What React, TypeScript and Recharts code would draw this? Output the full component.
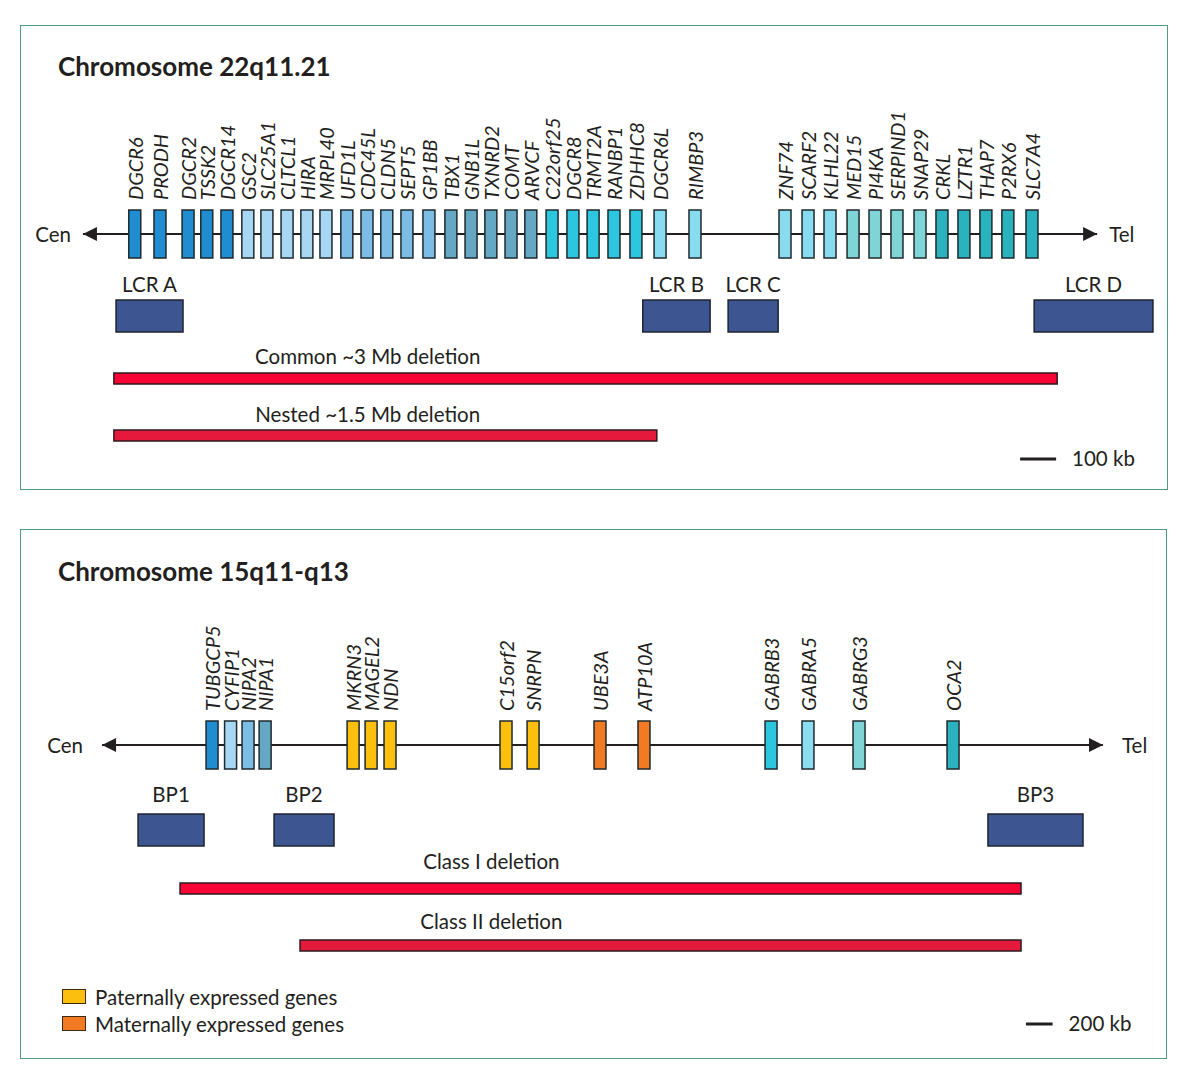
import { ScatterChart, Scatter, XAxis, YAxis, ReferenceArea, ReferenceLine } from 'recharts';

// ---- Chromosome 22q11.21 (positions in kb from the start of LCR A) ----
const genes22 = [
  'DGCR6', 'PRODH', 'DGCR2', 'TSSK2', 'DGCR14',
  'GSC2', 'SLC25A1', 'CLTCL1', 'HIRA', 'MRPL40',
  'UFD1L', 'CDC45L', 'CLDN5', 'SEPT5', 'GP1BB',
  'TBX1', 'GNB1L', 'TXNRD2', 'COMT', 'ARVCF',
  'C22orf25', 'DGCR8', 'TRMT2A', 'RANBP1', 'ZDHHC8',
  'DGCR6L', 'RIMBP3', 'ZNF74', 'SCARF2', 'KLHL22',
  'MED15', 'PI4KA', 'SERPIND1', 'SNAP29',
  'CRKL', 'LZTR1', 'THAP7', 'P2RX6', 'SLC7A4',
];
const genePos22 = [
  58, 128, 206, 258, 314,
  372, 425, 481, 536, 589,
  647, 703, 758, 814, 875,
  936, 992, 1047, 1103, 1158,
  1217, 1275, 1331, 1389, 1450,
  1517, 1614, 1864, 1928, 1989,
  2053, 2114, 2175, 2239,
  2300, 2361, 2422, 2483, 2550,
];
const geneGroup22 = [
  0, 0, 0, 0, 0,
  1, 1, 1, 1, 1,
  2, 2, 2, 2, 2,
  3, 3, 3, 3, 3,
  4, 4, 4, 4, 4,
  5, 5, 5, 5, 5,
  6, 6, 6, 6,
  7, 7, 7, 7, 7,
];
const groupColors = ['#1f8dcf', '#a8d7f4', '#7cbce5', '#64a8c3', '#2cc7df', '#88dcef', '#7fd5d5', '#2ab2be'];

const lcrNames = ['LCR A', 'LCR B', 'LCR C', 'LCR D'];
const lcrStart = [6, 1469, 1706, 2556];
const lcrEnd = [192, 1656, 1845, 2886];

const deletions22 = ['Common ~3 Mb deletion', 'Nested ~1.5 Mb deletion'];
const delStart22 = [0, 0];
const delEnd22 = [2620, 1508];

// ---- Chromosome 15q11-q13 (positions in kb from the start of BP1) ----
const genes15 = [
  'TUBGCP5', 'CYFIP1', 'NIPA2', 'NIPA1',
  'MKRN3', 'MAGEL2', 'NDN', 'C15orf2', 'SNRPN',
  'UBE3A', 'ATP10A',
  'GABRB3', 'GABRA5', 'GABRG3', 'OCA2',
];
const genePos15 = [555, 694, 825, 953, 1613, 1748, 1890, 2760, 2963, 3465, 3795, 4748, 5025, 5408, 6113];
const geneColor15 = [
  '#1f8dcf', '#a8d7f4', '#7cbce5', '#64a8c3',
  'pat', 'pat', 'pat', 'pat', 'pat',
  'mat', 'mat',
  '#2cc7df', '#8cdcef', '#7fd5d5', '#2ab2be',
];

const bpNames = ['BP1', 'BP2', 'BP3'];
const bpStart = [0, 1020, 6375];
const bpEnd = [495, 1470, 7088];

const deletions15 = ['Class I deletion', 'Class II deletion'];
const delStart15 = [315, 1215];
const delEnd15 = [6623, 6623];

const legendItems = ['Paternally expressed genes', 'Maternally expressed genes'];

const PAT = '#fcbf0e';
const MAT = '#f27a22';
const TEXT = '#231f20';
const FONT = 'Lato, "Open Sans", sans-serif';
const BORDER = '#4e9c82';
const FS = 20.5;

const GeneBox = (props: any) => {
  const { cx, cy, payload } = props;
  const w = 12;
  const h = 48;
  const ty = cy - h / 2 - 10;
  return (
    <g>
      <rect x={cx - w / 2} y={cy - h / 2} width={w} height={h} fill={payload.color} stroke="#1f2a2e" strokeWidth={1.5} />
      <text
        x={cx}
        y={ty}
        transform={`rotate(-90 ${cx} ${ty})`}
        textAnchor="start"
        dominantBaseline="central"
        fontStyle="italic"
        fontSize={20}
        fontFamily={FONT}
        fill={TEXT}
      >
        {payload.name}
      </text>
    </g>
  );
};

const ArrowEnd = (props: any) => {
  const { cx, cy, payload } = props;
  const d = payload.dir;
  const len = 14;
  const half = 7;
  return (
    <g>
      <polygon points={`${cx},${cy} ${cx - d * len},${cy - half} ${cx - d * len},${cy + half}`} fill={TEXT} />
      <text
        x={cx + d * payload.gap}
        y={cy}
        textAnchor={d < 0 ? 'end' : 'start'}
        dominantBaseline="central"
        fontSize={FS}
        fontFamily={FONT}
        fill={TEXT}
      >
        {payload.text}
      </text>
    </g>
  );
};

const TextMark = (props: any) => {
  const { cx, cy, payload } = props;
  return (
    <text x={cx} y={cy} textAnchor="middle" dominantBaseline="central" fontSize={FS} fontFamily={FONT} fill={TEXT}>
      {payload.text}
    </text>
  );
};

interface Layout {
  width: number;
  height: number;
  domain: [number, number];
  axisY: number;
  axisEnds: [number, number];
  endGap: number;
  boxTop: number;
  boxBottom: number;
  boxLabelOffset: number;
  delLabelX: number;
  delLabelY: number[];
  delTop: number[];
  delH: number;
  scaleFrom: number;
  scaleKb: number;
  scaleY: number;
}

const layout22: Layout = {
  width: 1146,
  height: 463,
  domain: [-258, 2925],
  axisY: 208,
  axisEnds: [-86, 2731],
  endGap: 12,
  boxTop: 274,
  boxBottom: 306,
  boxLabelOffset: 8,
  delLabelX: 705,
  delLabelY: [330, 388],
  delTop: [347, 404],
  delH: 11,
  scaleFrom: 2517,
  scaleKb: 100,
  scaleY: 433,
};

const layout15: Layout = {
  width: 1146,
  height: 528,
  domain: [-878, 7718],
  axisY: 215,
  axisEnds: [-270, 7238],
  endGap: 19,
  boxTop: 284,
  boxBottom: 316,
  boxLabelOffset: 12,
  delLabelX: 2650,
  delLabelY: [331, 391],
  delTop: [353, 410],
  delH: 11,
  scaleFrom: 6660,
  scaleKb: 200,
  scaleY: 494,
};

interface MapProps {
  layout: Layout;
  genes: { x: number; name: string; color: string }[];
  blocks: { name: string; start: number; end: number }[];
  deletions: { name: string; start: number; end: number }[];
  delColors: string[];
}

const ChromosomeMap = ({ layout, genes, blocks, deletions, delColors }: MapProps) => {
  const L = layout;
  const genePoints = genes.map((g) => ({ ...g, y: L.axisY }));
  const endPoints = [
    { x: L.axisEnds[0], y: L.axisY, dir: -1, text: 'Cen', gap: L.endGap },
    { x: L.axisEnds[1], y: L.axisY, dir: 1, text: 'Tel', gap: L.endGap },
  ];
  const delLabels = deletions.map((d, i) => ({ x: L.delLabelX, y: L.delLabelY[i], text: d.name }));
  return (
    <ScatterChart width={L.width} height={L.height} margin={{ top: 0, right: 0, bottom: 0, left: 0 }}>
      <XAxis type="number" dataKey="x" domain={L.domain} allowDataOverflow hide />
      <YAxis type="number" dataKey="y" domain={[0, L.height]} reversed allowDataOverflow hide />
      <ReferenceLine
        segment={[
          { x: L.axisEnds[0], y: L.axisY },
          { x: L.axisEnds[1], y: L.axisY },
        ]}
        stroke={TEXT}
        strokeWidth={2}
      />
      {blocks.map((b) => (
        <ReferenceArea
          key={b.name}
          x1={b.start}
          x2={b.end}
          y1={L.boxBottom}
          y2={L.boxTop}
          fill="#3d5590"
          fillOpacity={1}
          stroke="#1f2430"
          strokeWidth={1.5}
          label={{ value: b.name, position: 'top', offset: L.boxLabelOffset, fontSize: FS, fontFamily: FONT, fill: TEXT }}
        />
      ))}
      {deletions.map((d, i) => (
        <ReferenceArea
          key={d.name}
          x1={d.start}
          x2={d.end}
          y1={L.delTop[i] + L.delH}
          y2={L.delTop[i]}
          fill={delColors[i]}
          fillOpacity={1}
          stroke="#2e1a1e"
          strokeWidth={1.5}
        />
      ))}
      <ReferenceLine
        segment={[
          { x: L.scaleFrom, y: L.scaleY },
          { x: L.scaleFrom + L.scaleKb, y: L.scaleY },
        ]}
        stroke={TEXT}
        strokeWidth={3}
        label={{ value: `${L.scaleKb} kb`, position: 'right', offset: 16, fontSize: FS, fontFamily: FONT, fill: TEXT }}
      />
      <Scatter data={endPoints} shape={ArrowEnd} isAnimationActive={false} />
      <Scatter data={delLabels} shape={TextMark} isAnimationActive={false} />
      <Scatter data={genePoints} shape={GeneBox} isAnimationActive={false} />
    </ScatterChart>
  );
};

const gene22 = genes22.map((name, i) => ({ name, x: genePos22[i], color: groupColors[geneGroup22[i]] }));
const lcr22 = lcrNames.map((name, i) => ({ name, start: lcrStart[i], end: lcrEnd[i] }));
const del22 = deletions22.map((name, i) => ({ name, start: delStart22[i], end: delEnd22[i] }));

const gene15 = genes15.map((name, i) => ({
  name,
  x: genePos15[i],
  color: geneColor15[i] === 'pat' ? PAT : geneColor15[i] === 'mat' ? MAT : geneColor15[i],
}));
const bp15 = bpNames.map((name, i) => ({ name, start: bpStart[i], end: bpEnd[i] }));
const del15 = deletions15.map((name, i) => ({ name, start: delStart15[i], end: delEnd15[i] }));

const titleStyle: React.CSSProperties = {
  position: 'absolute',
  left: 37,
  fontFamily: FONT,
  fontWeight: 700,
  fontSize: 26,
  lineHeight: '30px',
  color: TEXT,
  whiteSpace: 'nowrap',
};

const App = () => {
  return (
    <div style={{ position: 'absolute', left: 0, top: 0, width: 1200, height: 1084, background: '#fff', fontFamily: FONT }}>
      <div style={{ position: 'absolute', left: 20, top: 25, width: 1146, height: 463, border: `1.5px solid ${BORDER}` }}>
        <div style={{ ...titleStyle, top: 25 }}>Chromosome 22q11.21</div>
        <ChromosomeMap layout={layout22} genes={gene22} blocks={lcr22} deletions={del22} delColors={['#f80535', '#e5193b']} />
      </div>
      <div style={{ position: 'absolute', left: 20, top: 529, width: 1145, height: 528, border: `1.5px solid ${BORDER}` }}>
        <div style={{ ...titleStyle, top: 26 }}>Chromosome 15q11-q13</div>
        <ChromosomeMap layout={layout15} genes={gene15} blocks={bp15} deletions={del15} delColors={['#f80535', '#e31a3c']} />
        {legendItems.map((item, i) => (
          <div key={item} style={{ position: 'absolute', left: 41, top: 459 + i * 27, height: 15, display: 'flex', alignItems: 'center' }}>
            <div style={{ width: 22, height: 13, background: i === 0 ? PAT : MAT, border: '1.5px solid #3a2a10' }} />
            <span style={{ marginLeft: 9, fontSize: FS, color: TEXT, whiteSpace: 'nowrap' }}>{item}</span>
          </div>
        ))}
      </div>
    </div>
  );
};

export default App;
